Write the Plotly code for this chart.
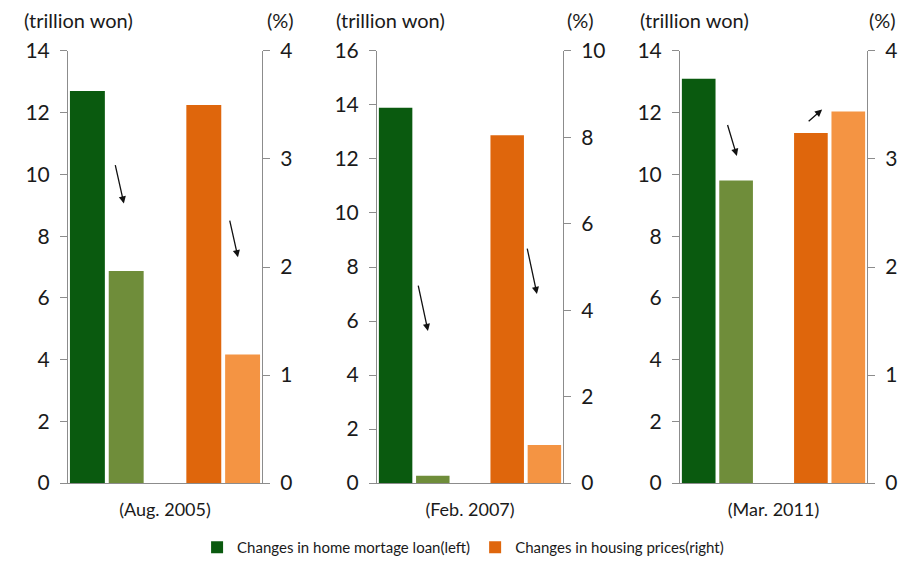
import plotly.graph_objects as go

# ---------------- data ----------------
periods = ["(Aug. 2005)", "(Feb. 2007)", "(Mar. 2011)"]
loan_before = [12.7, 13.9, 13.1]     # trillion won (left axis)
loan_after = [6.87, 0.27, 9.8]
price_before = [3.5, 8.05, 3.24]     # % (right axis)
price_after = [1.19, 0.88, 3.44]
left_max = [14, 16, 14]
left_dtick = [2, 2, 2]
right_max = [4, 10, 4]
right_dtick = [1, 2, 1]
loan_name = "Changes in home mortage loan(left)"
price_name = "Changes in housing prices(right)"
left_unit = "(trillion won)"
right_unit = "(%)"
# arrows (category-index x, left-axis y): tail -> head, two per panel
arrow_tail_x = [[0.71, 3.66], [0.60, 3.53], [0.76, 2.90]]
arrow_tail_y = [[10.35, 8.55], [7.37, 8.74], [11.65, 11.68]]
arrow_head_x = [[0.94, 3.88], [0.87, 3.80], [1.02, 3.30]]
arrow_head_y = [[9.06, 7.32], [5.63, 7.00], [10.60, 12.10]]

# ---------------- style ----------------
W, H = 908, 564
FONT = "Lato"
dark_green, light_green = "#0a5a0f", "#6f8d3a"
dark_orange, light_orange = "#df660c", "#f49443"
axis_col = "#8c8c8c"
x_px = [(68, 262), (377, 563), (680, 867)]
y_px = (51, 484)
ydom = [(H - y_px[1]) / H, (H - y_px[0]) / H]
left_shift = [10, 13, 14]
right_shift = [18, 17, 15]

fig = go.Figure()
layout = dict(
    width=W, height=H, template="none",
    paper_bgcolor="white", plot_bgcolor="white",
    margin=dict(l=0, r=0, t=0, b=0),
    barmode="overlay",
    font=dict(family=FONT, color="#1a1a1a"),
    showlegend=True,
    legend=dict(orientation="h", x=0.51, xanchor="center", y=(H - 548) / H,
                yanchor="middle", font=dict(size=15, family=FONT),
                bgcolor="rgba(0,0,0,0)", itemwidth=30, tracegroupgap=0),
)
annotations = []

for i in range(3):
    xs = "" if i == 0 else str(i + 1)
    yl = "" if i == 0 else str(2 * i + 1)
    yr = str(2 * i + 2)
    xname, ylname, yrname = "x" + xs, "y" + yl, "y" + yr

    fig.add_trace(go.Bar(
        x=[0, 1], y=[loan_before[i], loan_after[i]], width=0.9,
        marker=dict(color=[dark_green, light_green], line=dict(width=0)),
        name=loan_name, legendgroup="loan", showlegend=(i == 0),
        xaxis=xname, yaxis=ylname, hoverinfo="skip"))
    fig.add_trace(go.Bar(
        x=[3, 4], y=[price_before[i], price_after[i]], width=0.9,
        marker=dict(color=[dark_orange, light_orange], line=dict(width=0)),
        name=price_name, legendgroup="price", showlegend=(i == 0),
        xaxis=xname, yaxis=yrname, hoverinfo="skip"))

    layout["xaxis" + xs] = dict(
        domain=[x_px[i][0] / W, x_px[i][1] / W], anchor=ylname,
        range=[-0.5, 4.5], showgrid=False, zeroline=False,
        showline=True, linecolor=axis_col, linewidth=1,
        tickvals=[2], ticktext=[periods[i]], ticks="",
        ticklabelstandoff=10, tickfont=dict(size=18, family=FONT, color="#1a1a1a"),
        automargin=False, fixedrange=True)
    layout["yaxis" + yl] = dict(
        domain=ydom, anchor=xname, side="left",
        range=[0, left_max[i]], dtick=left_dtick[i], tick0=0,
        showgrid=False, zeroline=False, showline=True, linecolor=axis_col,
        linewidth=1, ticks="outside", ticklen=7, tickcolor=axis_col,
        ticklabelstandoff=6,
        tickfont=dict(size=21, family=FONT, color="#1a1a1a"),
        automargin=False, fixedrange=True)
    layout["yaxis" + yr] = dict(
        overlaying=ylname, anchor=xname, side="right",
        range=[0, right_max[i]], dtick=right_dtick[i], tick0=0,
        showgrid=False, zeroline=False, showline=True, linecolor=axis_col,
        linewidth=1, ticks="outside", ticklen=7, tickcolor=axis_col,
        ticklabelstandoff=6,
        tickfont=dict(size=21, family=FONT, color="#1a1a1a"),
        automargin=False, fixedrange=True)

    annotations.append(dict(
        text=left_unit, xref=xname + " domain", yref=ylname + " domain",
        x=0, y=1, xanchor="center", yanchor="bottom", xshift=left_shift[i],
        yshift=17, showarrow=False, font=dict(size=20, family=FONT, color="#1a1a1a")))
    annotations.append(dict(
        text=right_unit, xref=xname + " domain", yref=ylname + " domain",
        x=1, y=1, xanchor="center", yanchor="bottom", xshift=right_shift[i],
        yshift=17, showarrow=False, font=dict(size=20, family=FONT, color="#1a1a1a")))
    for k in range(2):
        annotations.append(dict(
            text="", xref=xname, yref=ylname, axref=xname, ayref=ylname,
            x=arrow_head_x[i][k], y=arrow_head_y[i][k],
            ax=arrow_tail_x[i][k], ay=arrow_tail_y[i][k],
            showarrow=True, arrowhead=2, arrowsize=1.1, arrowwidth=1.3,
            arrowcolor="#111111", standoff=0, startstandoff=0))

layout["annotations"] = annotations
fig.update_layout(**layout)
fig.write_html("out.html")
